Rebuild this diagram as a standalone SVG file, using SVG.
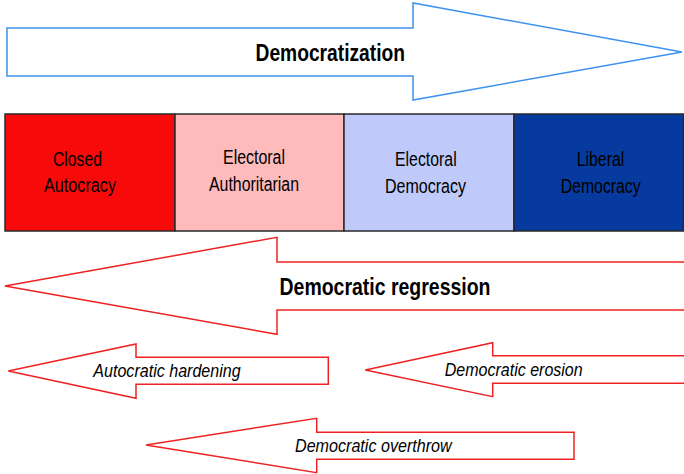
<svg xmlns="http://www.w3.org/2000/svg" width="684" height="474" viewBox="0 0 684 474">
<style>
.bg{fill:#ffffff}
.blue{fill:#ffffff;stroke:#3d93ee;stroke-width:1.5}
.red{fill:#ffffff;stroke:#ee2222;stroke-width:1.5}
.box{stroke:#2a2a2a;stroke-width:1.5}
.title{font-family:"Liberation Sans",Arial,sans-serif;font-weight:bold;font-size:23px;fill:#000}
.lbl{font-family:"Liberation Sans",Arial,sans-serif;font-size:20px;fill:#000}
.it{font-family:"Liberation Sans",Arial,sans-serif;font-style:italic;font-size:17.5px;fill:#000}
</style>
<rect class="bg" x="0" y="0" width="684" height="474"/>
<g id="connectors">
  <g id="democratization">
    <path class="blue" d="M7,28 L413,28 L413,3 L682,52 L413,100 L413,76 L7,76 Z"/>
    <text class="title" x="255.5" y="60.7" textLength="149.5" lengthAdjust="spacingAndGlyphs">Democratization</text>
  </g>
  <g id="regression">
    <path class="red" d="M686,262 L277,262 L277,237.3 L5,286 L277,334.3 L277,310 L686,310"/>
    <text class="title" x="279.5" y="295" textLength="211" lengthAdjust="spacingAndGlyphs">Democratic regression</text>
  </g>
  <g id="hardening">
    <path class="red" d="M328.3,357.3 L136,357.3 L136,344 L8.3,371 L136,398.3 L136,384.3 L328.3,384.3 Z"/>
    <text class="it" x="93.3" y="376.7" textLength="147.4" lengthAdjust="spacingAndGlyphs">Autocratic hardening</text>
  </g>
  <g id="erosion">
    <path class="red" d="M686,355.7 L492.7,355.7 L492.7,342.7 L365.3,370 L492.7,396.7 L492.7,383.3 L686,383.3"/>
    <text class="it" x="444.7" y="376" textLength="138" lengthAdjust="spacingAndGlyphs">Democratic erosion</text>
  </g>
  <g id="overthrow">
    <path class="red" d="M574,432.3 L316.7,432.3 L316.7,418.3 L146,445 L316.7,472.7 L316.7,459.3 L574,459.3 Z"/>
    <text class="it" x="295" y="451.7" textLength="156.7" lengthAdjust="spacingAndGlyphs">Democratic overthrow</text>
  </g>
</g>
<g id="closed-autocracy">
  <rect class="box" x="5" y="114" width="170" height="117" fill="#f80a0a"/>
  <text class="lbl" x="53" y="165.7" textLength="49" lengthAdjust="spacingAndGlyphs">Closed</text>
  <text class="lbl" x="44" y="192" textLength="72" lengthAdjust="spacingAndGlyphs">Autocracy</text>
</g>
<g id="electoral-authoritarian">
  <rect class="box" x="175" y="114" width="169" height="117" fill="#ffbbbb"/>
  <text class="lbl" x="223" y="164" textLength="62" lengthAdjust="spacingAndGlyphs">Electoral</text>
  <text class="lbl" x="209" y="191" textLength="90" lengthAdjust="spacingAndGlyphs">Authoritarian</text>
</g>
<g id="electoral-democracy">
  <rect class="box" x="344" y="114" width="170" height="117" fill="#bfc9fa"/>
  <text class="lbl" x="395" y="165.7" textLength="61.7" lengthAdjust="spacingAndGlyphs">Electoral</text>
  <text class="lbl" x="385" y="193" textLength="81" lengthAdjust="spacingAndGlyphs">Democracy</text>
</g>
<g id="liberal-democracy">
  <rect class="box" x="514" y="114" width="169.5" height="117" fill="#063a9e"/>
  <text class="lbl" x="576.7" y="165.7" textLength="47.6" lengthAdjust="spacingAndGlyphs">Liberal</text>
  <text class="lbl" x="560.7" y="193" textLength="80" lengthAdjust="spacingAndGlyphs">Democracy</text>
</g>
</svg>
